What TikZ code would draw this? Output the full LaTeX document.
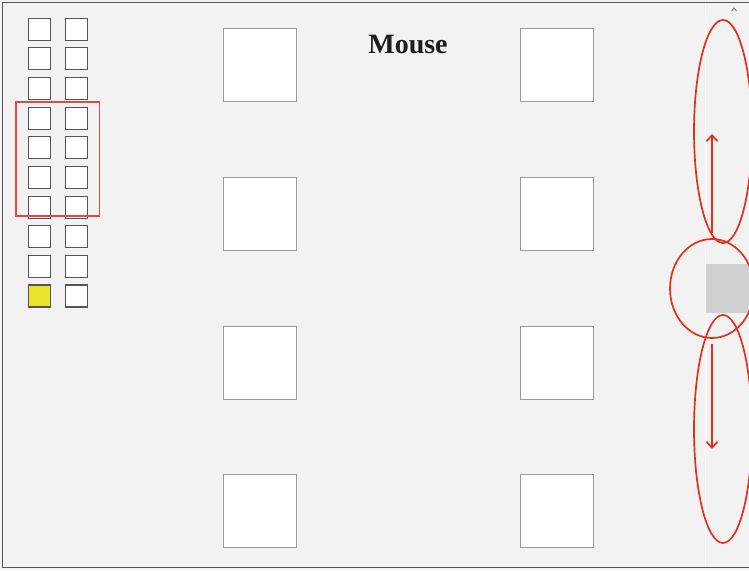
\documentclass[tikz,border=0pt]{standalone}
\usepackage{fontspec}
\setmainfont{Liberation Serif}
\usetikzlibrary{arrows.meta}
\definecolor{panelbg}{HTML}{F2F2F2}
\definecolor{framegray}{HTML}{555555}
\definecolor{boxgray}{HTML}{9A9A9A}
\definecolor{thumbgray}{HTML}{CFD0D0}
\definecolor{markred}{HTML}{E0301E}
\definecolor{selred}{HTML}{E84545}
\definecolor{keyyellow}{HTML}{EBE22E}
\definecolor{titleink}{HTML}{1E1E1E}
\tikzset{
  keybox/.style={draw=framegray, line width=1.1pt, fill=white, inner sep=0pt, minimum size=22pt},
  tilebox/.style={draw=boxgray, line width=1pt, fill=white, inner sep=0pt, minimum size=73pt},
  ring/.style={draw=markred, line width=1.7pt},
  scrollarrow/.style={draw=markred, line width=1.7pt, -{Straight Barb[length=6pt,width=11pt,line width=1.7pt]}},
}
\begin{document}
\begin{tikzpicture}[x=1pt,y=-1pt]
  \useasboundingbox (0,0) rectangle (749,570);
  % window background and frame
  \fill[panelbg] (0,0) rectangle (749,570);
  \draw[framegray, line width=1pt] (2,2) -- (752,2);
  \draw[framegray, line width=1pt] (2,2) -- (2,567) -- (752,567);
  % scrollbar track
  \draw[white, line width=1pt] (705.5,3) -- (705.5,566);
  \draw[gray, line width=0.9pt] (731.5,11) -- (734,8) -- (736.5,11);
  \fill[thumbgray] (706,264) rectangle (749,313);

  % small key grid
  \foreach \r in {0,...,8} {
    \node[keybox] (ka\r) at (39.5, 29.3+29.63*\r) {};
  }
  \node[keybox, fill=keyyellow] (ka9) at (39.5, 29.3+29.63*9) {};
  \foreach \r in {0,...,9} {
    \node[keybox] (kb\r) at (76.5, 29.3+29.63*\r) {};
  }
  \draw[selred, line width=1.4pt] (16,102) rectangle (99.5,216);

  % large tiles
  \foreach \r/\y in {0/65.3,1/214,2/363,3/511} {
    \node[tilebox] (ta\r) at (259.5,\y) {};
    \node[tilebox] (tb\r) at (556.5,\y) {};
  }

  \node[font=\bfseries\fontsize{28}{30}\selectfont, text=titleink, anchor=base, inner sep=0pt] (title) at (408,53) {Mouse};

  % scroll gesture markers
  \draw[ring] (723,131.5) ellipse [x radius=29pt, y radius=111.5pt];
  \draw[ring] (712,288.5) ellipse [x radius=42pt, y radius=49.5pt];
  \draw[ring] (723,429) ellipse [x radius=29pt, y radius=114pt];
  \coordinate (upfrom) at (712,233);
  \coordinate (upto) at (712,134);
  \coordinate (downfrom) at (712,343.5);
  \coordinate (downto) at (712,449);
  \draw[scrollarrow] (upfrom) -- (upto);
  \draw[scrollarrow] (downfrom) -- (downto);
\end{tikzpicture}
\end{document}
